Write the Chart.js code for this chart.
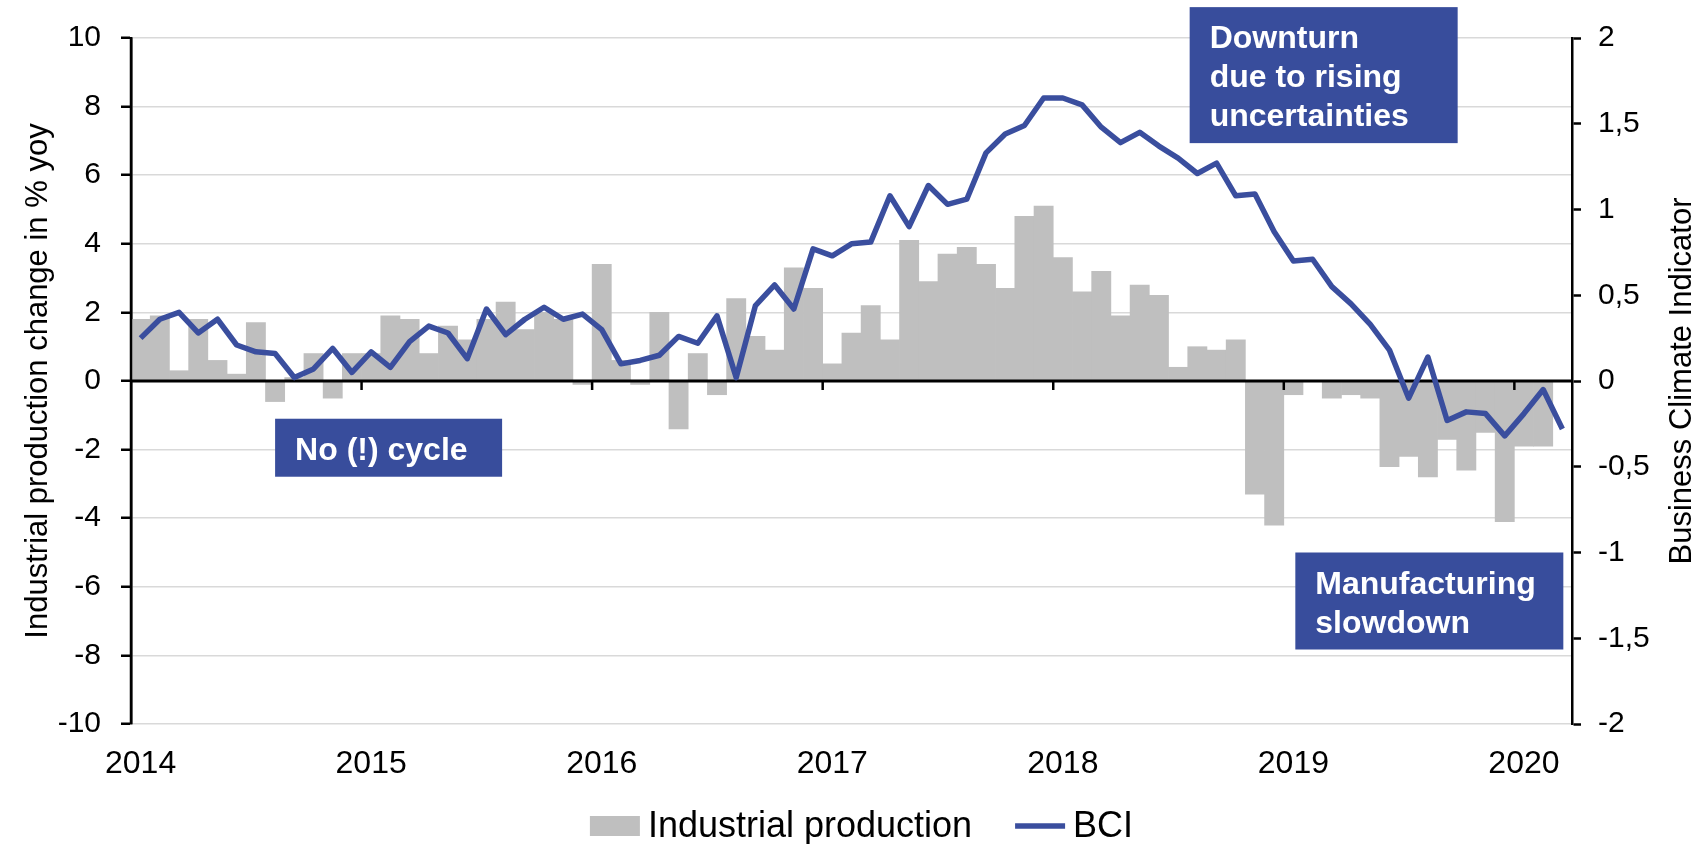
<!DOCTYPE html>
<html>
<head>
<meta charset="utf-8">
<script src="https://cdn.jsdelivr.net/npm/chart.js@4.4.1/dist/chart.umd.min.js"></script>
<style>
  html, body { margin: 0; padding: 0; background: #fff; }
  #wrap { width: 1698px; height: 844px; }
</style>
</head>
<body>
<div id="wrap"><canvas id="chart" width="1698" height="844"></canvas></div>
<script>
/* ── Data ─────────────────────────────────────────── */
const years = ['2014', '2015', '2016', '2017', '2018', '2019', '2020'];
const months = ['01', '02', '03', '04', '05', '06', '07', '08', '09', '10', '11', '12'];
const monthsIn2020 = 3;

// Industrial production, % yoy (Mar 2020 not yet published)
const ipValues = [
  1.8, 1.9, 0.3, 1.8, 0.6, 0.2, 1.7, -0.6, 0.1, 0.8, -0.5, 0.8,
  0.8, 1.9, 1.8, 0.8, 1.6, 1.2, 1.8, 2.3, 1.5, 2.0, 1.8, -0.1,
  3.4, 0.6, -0.1, 2.0, -1.4, 0.8, -0.4, 2.4, 1.3, 0.9, 3.3, 2.7,
  0.5, 1.4, 2.2, 1.2, 4.1, 2.9, 3.7, 3.9, 3.4, 2.7, 4.8, 5.1,
  3.6, 2.6, 3.2, 1.9, 2.8, 2.5, 0.4, 1.0, 0.9, 1.2, -3.3, -4.2,
  -0.4, 0.0, -0.5, -0.4, -0.5, -2.5, -2.2, -2.8, -1.7, -2.6, -1.5, -4.1,
  -1.9, -1.9, null
];

// Business Climate Indicator
const bciValues = [
  0.25, 0.36, 0.40, 0.28, 0.36, 0.21, 0.17, 0.16, 0.02, 0.07, 0.19, 0.05,
  0.17, 0.08, 0.23, 0.32, 0.28, 0.13, 0.42, 0.27, 0.36, 0.43, 0.36, 0.39,
  0.30, 0.10, 0.12, 0.15, 0.26, 0.22, 0.38, 0.02, 0.44, 0.56, 0.42, 0.77,
  0.73, 0.80, 0.81, 1.08, 0.90, 1.14, 1.03, 1.06, 1.33, 1.44, 1.49, 1.65,
  1.65, 1.61, 1.48, 1.39, 1.45, 1.37, 1.30, 1.21, 1.27, 1.08, 1.09, 0.87,
  0.70, 0.71, 0.55, 0.45, 0.33, 0.18, -0.10, 0.14, -0.23, -0.18, -0.19, -0.32,
  -0.19, -0.05, -0.28
];

const labels = [];
years.forEach((yr) => {
  const n = yr === '2020' ? monthsIn2020 : months.length;
  months.slice(0, n).forEach((m) => labels.push(yr + '-' + m));
});

const leftTitle = 'Industrial production change in % yoy';
const rightTitle = 'Business Climate Indicator';

// Annotation boxes: anchored on category index / left-axis value
const notes = [
  { lines: ['No (!) cycle'], x: 7.0, y: -1.1, w: 227 },
  { lines: ['Downturn', 'due to rising', 'uncertainties'], x: 54.6, y: 10.9, w: 268 },
  { lines: ['Manufacturing', 'slowdown'], x: 60.1, y: -5.0, w: 268 },
];

const FONT = '"Liberation Sans", Arial, sans-serif';
const BLUE = '#3A4E9E';
const BOX_BLUE = '#384D9C';
const GREY = '#BFBFBF';

Chart.defaults.font.family = FONT;
Chart.defaults.color = '#000';

/* ── Plugins ──────────────────────────────────────── */
// zero line, year tick marks and left axis drawn over the bars
const axisOverlay = {
  id: 'axisOverlay',
  afterDatasetDraw(chart, args) {
    if (args.meta.type !== 'bar') return;
    const { ctx, chartArea, scales: { x, y } } = chart;
    const y0 = y.getPixelForValue(0);
    ctx.save();
    ctx.strokeStyle = '#000';
    ctx.lineWidth = 3;
    ctx.beginPath();
    ctx.moveTo(chartArea.left, y0);
    ctx.lineTo(chartArea.right, y0);
    ctx.stroke();
    ctx.lineWidth = 2.5;
    labels.forEach((lab, i) => {
      if (i === 0 || !lab.endsWith('-01')) return;
      const px = (x.getPixelForValue(i - 1) + x.getPixelForValue(i)) / 2;
      ctx.beginPath();
      ctx.moveTo(px, y0);
      ctx.lineTo(px, y0 + 9);
      ctx.stroke();
    });
    ctx.beginPath();
    ctx.moveTo(chartArea.left, chartArea.top);
    ctx.lineTo(chartArea.left, chartArea.bottom);
    ctx.stroke();
    ctx.restore();
  }
};

// axis titles (both read bottom-to-top), annotation boxes and legend
const textOverlay = {
  id: 'textOverlay',
  afterDraw(chart) {
    const { ctx, chartArea, scales: { x, y } } = chart;
    const cy = (chartArea.top + chartArea.bottom) / 2;
    ctx.save();
    ctx.font = '31px ' + FONT;
    ctx.fillStyle = '#000';
    ctx.textAlign = 'center';
    ctx.textBaseline = 'middle';
    [[chartArea.left - 93, leftTitle], [chartArea.right + 110, rightTitle]].forEach(([tx, t]) => {
      ctx.save();
      ctx.translate(tx, cy);
      ctx.rotate(-Math.PI / 2);
      ctx.fillText(t, 0, 0);
      ctx.restore();
    });

    // annotation boxes
    ctx.font = 'bold 32px ' + FONT;
    ctx.textAlign = 'left';
    ctx.textBaseline = 'alphabetic';
    notes.forEach((n) => {
      const left = x.getPixelForValue(n.x);
      const top = y.getPixelForValue(n.y);
      const h = 19 + 39 * n.lines.length;
      ctx.fillStyle = BOX_BLUE;
      ctx.fillRect(left, top, n.w, h);
      ctx.fillStyle = '#fff';
      n.lines.forEach((line, i) => ctx.fillText(line, left + 20, top + 41 + 39 * i));
    });

    // legend
    ctx.font = '36px ' + FONT;
    ctx.textBaseline = 'middle';
    const sym = 50, gap = 8, itemGap = 43;
    const items = chart.data.datasets.map((ds) => ({ ds, w: sym + gap + ctx.measureText(ds.label).width }));
    const total = items.reduce((s, it) => s + it.w, 0) + itemGap * (items.length - 1);
    let lx = (chartArea.left + chartArea.right) / 2 - total / 2 + 10;
    const ly = chartArea.bottom + 102;
    items.forEach(({ ds, w }) => {
      if (ds.type === 'bar') {
        ctx.fillStyle = ds.backgroundColor;
        ctx.fillRect(lx, ly - 10, sym, 20);
      } else {
        ctx.strokeStyle = ds.borderColor;
        ctx.lineWidth = ds.borderWidth;
        ctx.beginPath();
        ctx.moveTo(lx, ly);
        ctx.lineTo(lx + sym, ly);
        ctx.stroke();
      }
      ctx.fillStyle = '#000';
      ctx.fillText(ds.label, lx + sym + gap, ly + 1);
      lx += w + itemGap;
    });
    ctx.restore();
  }
};

/* ── Chart ────────────────────────────────────────── */
new Chart(document.getElementById('chart'), {
  data: {
    labels,
    datasets: [
      {
        type: 'bar',
        label: 'Industrial production',
        data: ipValues,
        yAxisID: 'y',
        backgroundColor: GREY,
        borderWidth: 0,
        barPercentage: 1,
        categoryPercentage: 1,
        order: 1,
      },
      {
        type: 'line',
        label: 'BCI',
        data: bciValues,
        yAxisID: 'y1',
        borderColor: BLUE,
        backgroundColor: BLUE,
        borderWidth: 5.5,
        borderJoinStyle: 'round',
        pointRadius: 0,
        tension: 0,
        order: 0,
      },
    ],
  },
  options: {
    responsive: false,
    animation: false,
    layout: { padding: { top: 38, left: 0, right: 0, bottom: 0 } },
    plugins: {
      tooltip: { enabled: false },
      legend: { display: false },
    },
    scales: {
      x: {
        type: 'category',
        offset: true,
        grid: { display: false, drawTicks: false },
        border: { display: false },
        ticks: {
          autoSkip: false,
          maxRotation: 0,
          padding: 21,
          color: '#000',
          font: { size: 32 },
          callback: (v, i) => (labels[i].endsWith('-01') ? labels[i].slice(0, 4) : null),
        },
        afterFit: (s) => { s.height = 120; },
      },
      y: {
        position: 'left',
        min: -10,
        max: 10,
        ticks: { stepSize: 2, padding: 20, color: '#000', font: { size: 30 } },
        grid: {
          color: (c) => (c.tick && c.tick.value === 0 ? 'rgba(0,0,0,0)' : '#D9D9D9'),
          lineWidth: 1.5,
          tickColor: '#000',
          tickLength: 10,
          tickWidth: 2.5,
        },
        border: { display: true, color: '#000', width: 2.5 },
        afterFit: (s) => { s.width = 131; },
      },
      y1: {
        position: 'right',
        min: -2,
        max: 2,
        ticks: {
          stepSize: 0.5,
          padding: 17,
          color: '#000',
          font: { size: 30 },
          callback: (v) => String(v).replace('.', ','),
        },
        grid: { drawOnChartArea: false, tickColor: '#000', tickLength: 9, tickWidth: 2.5 },
        border: { display: true, color: '#000', width: 2.5 },
        afterFit: (s) => { s.width = 126; },
      },
    },
  },
  plugins: [axisOverlay, textOverlay],
});
</script>
</body>
</html>
